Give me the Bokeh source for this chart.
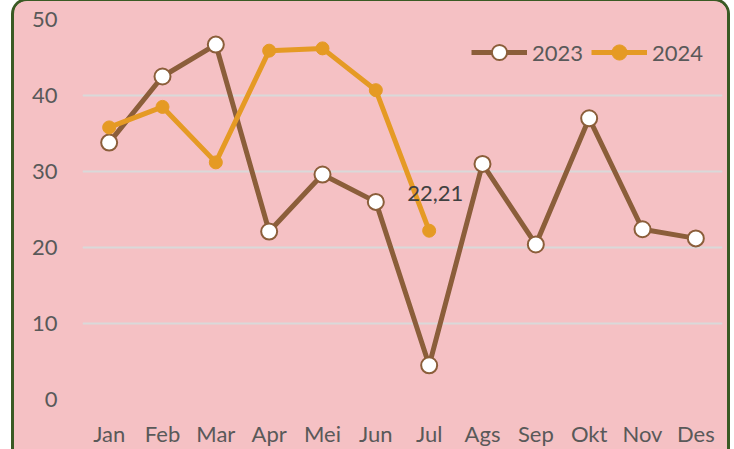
from bokeh.plotting import figure
from bokeh.models import (Legend, LegendItem, ColumnDataSource, FixedTicker, FactorRange)
from bokeh.core.properties import value
from bokeh.embed import file_html
from bokeh.resources import INLINE

months = ["Jan", "Feb", "Mar", "Apr", "Mei", "Jun", "Jul", "Ags", "Sep", "Okt", "Nov", "Des"]
values_2023 = [33.8, 42.5, 46.7, 22.1, 29.6, 26.0, 4.5, 31.0, 20.4, 37.0, 22.4, 21.2]
months_2024 = ["Jan", "Feb", "Mar", "Apr", "Mei", "Jun", "Jul"]
values_2024 = [35.8, 38.5, 31.2, 45.9, 46.2, 40.7, 22.21]
y_ticks = [0, 10, 20, 30, 40, 50]

PINK = "#F5C1C4"
GREEN = "#3A5A24"
BROWN = "#8B5E3A"
ORANGE = "#E59A24"
TEXT = "#595959"
FONT = "Lato"

p = figure(width=719, height=451, x_range=FactorRange(factors=months), y_range=(0, 50),
           output_backend="svg", toolbar_location=None,
           min_border_left=68, min_border_right=11, min_border_top=18, min_border_bottom=53)
p.styles = {"position": "absolute", "top": "-2px", "left": "11px",
            "border-top": f"3px solid {GREEN}", "border-left": f"3px solid {GREEN}",
            "border-right": f"3px solid {GREEN}", "border-bottom": "none",
            "border-radius": "16px 16px 0 0", "overflow": "hidden",
            "background-color": PINK}
p.border_fill_color = PINK
p.background_fill_color = PINK
p.outline_line_color = None

p.xgrid.grid_line_color = None
p.ygrid.grid_line_color = "#D9D9D9"
p.ygrid.grid_line_width = 2
p.ygrid.ticker = FixedTicker(ticks=y_ticks)

for ax in (p.xaxis[0], p.yaxis[0]):
    ax.axis_line_color = None
    ax.major_tick_line_color = None
    ax.minor_tick_line_color = None
    ax.major_tick_in = 0
    ax.major_tick_out = 0
    ax.major_label_text_font = FONT
    ax.major_label_text_font_size = "22px"
    ax.major_label_text_color = TEXT
p.yaxis[0].ticker = FixedTicker(ticks=y_ticks)
p.yaxis[0].major_label_standoff = 25
p.xaxis[0].major_label_standoff = 20

src23 = ColumnDataSource(dict(x=months, y=values_2023))
src24 = ColumnDataSource(dict(x=months_2024, y=values_2024))

l23 = p.line("x", "y", source=src23, line_color=BROWN, line_width=5, line_join="round")
m23 = p.scatter("x", "y", source=src23, size=16, fill_color="white", line_color=BROWN, line_width=2)
l24 = p.line("x", "y", source=src24, line_color=ORANGE, line_width=5, line_join="round")
m24 = p.scatter("x", "y", source=src24, size=13, fill_color=ORANGE, line_color=ORANGE, line_width=1)

lab_src = ColumnDataSource(dict(x=[months_2024[-1]], y=[values_2024[-1]],
                                t=[f"{values_2024[-1]:.2f}".replace(".", ",")]))
p.text("x", "y", text="t", source=lab_src, x_offset=6, y_offset=-37,
       text_align="center", text_baseline="middle", text_font=value(FONT),
       text_font_size="22px", text_color="#404040")

legend = Legend(items=[LegendItem(label="2023", renderers=[l23, m23]),
                       LegendItem(label="2024", renderers=[l24, m24])],
                orientation="horizontal", location=(389, 328),
                glyph_width=56, glyph_height=38, label_height=22, label_standoff=5,
                spacing=8, padding=0, margin=0,
                background_fill_alpha=0, border_line_color=None,
                label_text_font=FONT, label_text_font_size="22px", label_text_color=TEXT)
p.add_layout(legend)

open("out.html", "w").write(file_html(p, INLINE))
